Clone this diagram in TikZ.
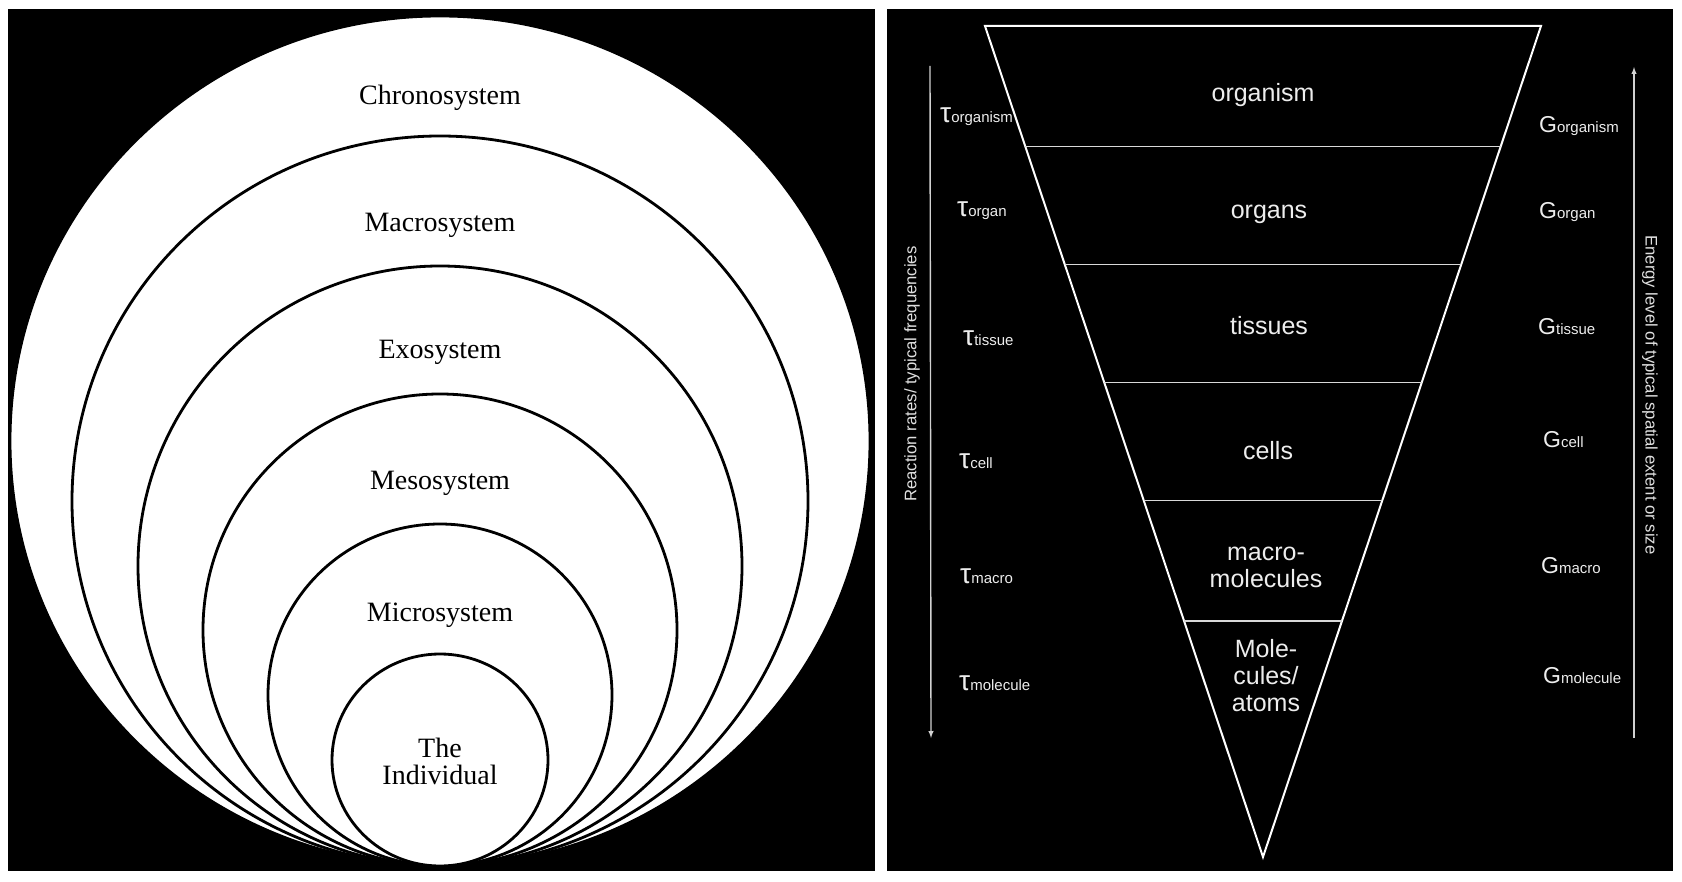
\documentclass[tikz,border=0pt]{standalone}
\usepackage{fontspec}
\setmainfont{Liberation Serif}
\newfontfamily\arialfont{Liberation Sans}
\usetikzlibrary{calc}

\tikzset{
  ring/.style={draw=black,fill=white,line width=2.8pt},
  ringlabel/.style={font=\fontsize{28}{27}\selectfont,align=center,text=black},
  level/.style={font=\arialfont\fontsize{25}{27}\selectfont,align=center,text=white!93!black},
  rate/.style={anchor=base west,inner sep=0pt,font=\arialfont,text=white!93!black},
  axis/.style={draw=white!82!black,line width=1.4pt},
  axislabel/.style={font=\arialfont\fontsize{16.7}{18}\selectfont,text=white!88!black,inner sep=0pt},
}
\newcommand{\taulbl}[1]{{\fontsize{28}{28}\selectfont τ}{\fontsize{15}{15}\selectfont #1}}
\newcommand{\glbl}[1]{{\fontsize{23}{23}\selectfont G}{\fontsize{15}{15}\selectfont #1}}

\begin{document}
\begin{tikzpicture}[x=1pt,y=-1pt]
    \useasboundingbox (0,0) rectangle (1682,882);
    \fill[white] (0,0) rectangle (1682,882);
    \fill[black] (8,9) rectangle (875,871);
    \fill[black] (887,9) rectangle (1673,871);

    % nested systems
    \foreach \rx/\ry in {430/425,368/365,302/300,237/236,172/171,108/106}
        {\draw[ring] (440,866-\ry) ellipse (\rx pt and \ry pt);}
    \node[ringlabel] (chrono) at (440,98) {Chronosystem};
    \node[ringlabel] (macrosys) at (440,225) {Macrosystem};
    \node[ringlabel] (exosys) at (440,352) {Exosystem};
    \node[ringlabel] (mesosys) at (440,483) {Mesosystem};
    \node[ringlabel] (microsys) at (440,615) {Microsystem};
    \node[ringlabel] (indiv) at (440,761) {The\\Individual};

    % levels of organisation
    \coordinate (tl) at (985,26);
    \coordinate (tr) at (1541,26);
    \coordinate (apex) at (1263,857);
    \draw[white,line width=2pt] (tl) -- (tr) -- (apex) -- cycle;
    \foreach \t in {0.1448,0.2869,0.4290,0.5711,0.7158}
        {\draw[white!85!black,line width=1.6pt] ($(tl)!\t!(apex)$) -- ($(tr)!\t!(apex)$);}
    \node[level] (organism) at (1263,95) {organism};
    \node[level] (organs) at (1269,214) {organs};
    \node[level] (tissues) at (1269,326) {tissues};
    \node[level] (cells) at (1268,451) {cells};
    \node[level] (macromol) at (1266,567) {macro-\\molecules};
    \node[level] (atoms) at (1266,676) {Mole-\\cules/\\atoms};

    \coordinate (ratetop) at (930,66);
    \coordinate (ratebot) at (931,738);
    \draw[axis,-latex] (ratetop) -- (ratebot);
    \node[axislabel,rotate=90] (ratelabel) at (912,374) {Reaction rates/ typical frequencies};
    \coordinate (energybot) at (1634,738);
    \coordinate (energytop) at (1634,67);
    \draw[axis,-latex] (energybot) -- (energytop);
    \node[axislabel,rotate=-90] (energylabel) at (1650,395) {Energy level of typical spatial extent or size};

    \foreach \name/\x/\y in {organism/940/123,organ/957/217,tissue/963/346,cell/959/468,macro/960/583,molecule/959/690}
        {\node[rate] (tau\name) at (\x,\y) {\taulbl{\name}};}
    \foreach \name/\x/\y in {organism/1539/133,organ/1539/219,tissue/1538/335,cell/1543/448,macro/1541/573,molecule/1543/683}
        {\node[rate] (g\name) at (\x,\y) {\glbl{\name}};}
\end{tikzpicture}
\end{document}
